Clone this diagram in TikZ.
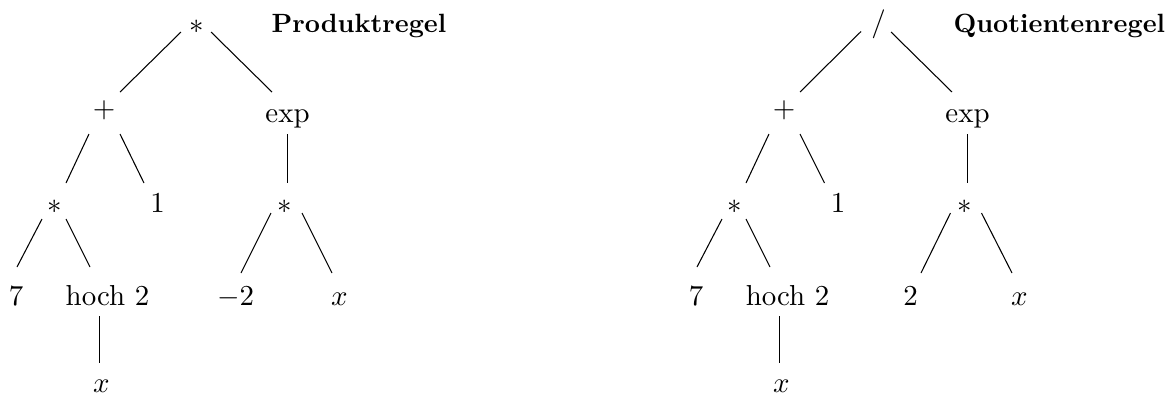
\documentclass[tikz,border=0pt]{standalone}
\usetikzlibrary{calc}
\tikzset{
  lbl/.style={anchor=base, inner sep=0pt, font=\fontsize{10.95}{13}\selectfont},
  ttl/.style={anchor=base west, inner sep=0pt, font=\bfseries},
  edge/.style={line width=0.4pt}
}
\begin{document}
\begin{tikzpicture}[x=0.3788pt, y=-0.3788pt]
\useasboundingbox (0,0) rectangle (1167,394);
% ---------- left tree: Produktregel ----------
\node[lbl] (La) at (197,33) {$*$};
\node[ttl] (Lt) at (271,32) {Produktregel};
\node[lbl] (Lplus) at (104,117.5) {$+$};
\node[lbl] (Lexp) at (287.5,122) {exp};
\node[lbl] (Ls1) at (54.5,213) {$*$};
\node[lbl] (Lone) at (157.5,212.5) {1};
\node[lbl] (Ls2) at (285,213) {$*$};
\node[lbl] (Lseven) at (16,305) {7};
\node[lbl] (Lhoch) at (107.5,305) {hoch 2};
\node[lbl] (Lm) at (235.5,305) {$-2$};
\node[lbl] (Lx1) at (339.5,305) {$x$};
\node[lbl] (Lx0) at (101.5,392.5) {$x$};
\draw[edge] ([shift={(-16,-1)}]La.base) -- ([shift={(16,-25.5)}]Lplus.base);
\draw[edge] ([shift={(14,-1)}]La.base) -- ([shift={(-15.5,-30)}]Lexp.base);
\draw[edge] ([shift={(-15,16.5)}]Lplus.base) -- ([shift={(11.5,-30)}]Ls1.base);
\draw[edge] ([shift={(16,16.5)}]Lplus.base) -- ([shift={(-13.5,-29.5)}]Lone.base);
\draw[edge] ([shift={(0,12)}]Lexp.base) -- ([shift={(2.5,-30)}]Ls2.base);
\draw[edge] ([shift={(-12.5,6)}]Ls1.base) -- ([shift={(1,-38)}]Lseven.base);
\draw[edge] ([shift={(11.5,6)}]Ls1.base) -- ([shift={(-17.5,-38)}]Lhoch.base);
\draw[edge] ([shift={(-14,0)}]Ls2.base) -- ([shift={(5.5,-32)}]Lm.base);
\draw[edge] ([shift={(17,0)}]Ls2.base) -- ([shift={(-7.5,-32)}]Lx1.base);
\draw[edge] ([shift={(-8,11)}]Lhoch.base) -- ([shift={(-2,-29.5)}]Lx0.base);
% ---------- right tree: Quotientenregel ----------
\node[lbl] (Ra) at (878.5,31.5) {/};
\node[ttl] (Rt) at (953,32) {Quotientenregel};
\node[lbl] (Rplus) at (784,117.5) {$+$};
\node[lbl] (Rexp) at (967.5,122) {exp};
\node[lbl] (Rs1) at (734.5,213) {$*$};
\node[lbl] (Rone) at (838,212.5) {1};
\node[lbl] (Rs2) at (965,213) {$*$};
\node[lbl] (Rseven) at (696,305) {7};
\node[lbl] (Rhoch) at (787.5,305) {hoch 2};
\node[lbl] (Rtwo) at (910.5,305) {2};
\node[lbl] (Rx1) at (1019.5,305) {$x$};
\node[lbl] (Rx0) at (781.5,392.5) {$x$};
\draw[edge] ([shift={(-17.5,0)}]Ra.base) -- ([shift={(16,-25.5)}]Rplus.base);
\draw[edge] ([shift={(12.5,0.5)}]Ra.base) -- ([shift={(-15.5,-30)}]Rexp.base);
\draw[edge] ([shift={(-15,16.5)}]Rplus.base) -- ([shift={(11.5,-30)}]Rs1.base);
\draw[edge] ([shift={(16,16.5)}]Rplus.base) -- ([shift={(-13.5,-29.5)}]Rone.base);
\draw[edge] ([shift={(0,12)}]Rexp.base) -- ([shift={(2.5,-30)}]Rs2.base);
\draw[edge] ([shift={(-12.5,6)}]Rs1.base) -- ([shift={(1,-38)}]Rseven.base);
\draw[edge] ([shift={(11.5,6)}]Rs1.base) -- ([shift={(-17.5,-38)}]Rhoch.base);
\draw[edge] ([shift={(-14.5,0)}]Rs2.base) -- ([shift={(10.5,-32)}]Rtwo.base);
\draw[edge] ([shift={(16.5,0)}]Rs2.base) -- ([shift={(-7.5,-32)}]Rx1.base);
\draw[edge] ([shift={(-8,11)}]Rhoch.base) -- ([shift={(-2,-29.5)}]Rx0.base);
\end{tikzpicture}
\end{document}
